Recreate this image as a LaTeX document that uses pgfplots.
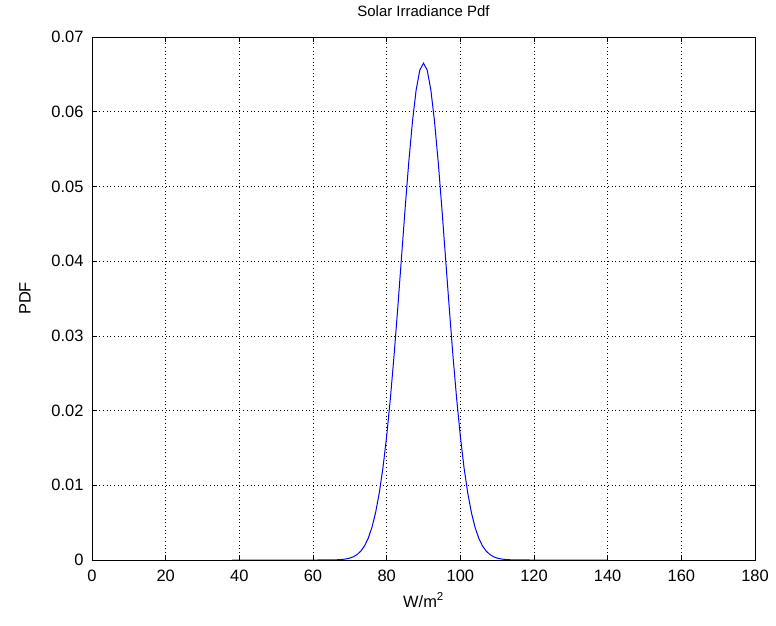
\documentclass[border=0pt]{standalone}
\usepackage{pgfplots}
\pgfplotsset{compat=1.18}
\usepackage{fontspec}
\setmainfont{Liberation Sans}
\begin{document}
\begin{tikzpicture}
\path[use as bounding box] (-92bp,-66bp) rectangle (684bp,560bp);
\begin{axis}[
  at={(0,0)}, anchor=south west,
  scale only axis, width=663bp, height=523bp,
  xmin=0, xmax=180, ymin=0, ymax=0.07,
  xtick={0,20,...,180},
  ytick={0,0.01,0.02,0.03,0.04,0.05,0.06,0.07},
  yticklabels={0,0.01,0.02,0.03,0.04,0.05,0.06,0.07},
  /pgf/number format/assume math mode=true,
  tick label style={font=\fontsize{16.5}{19}\selectfont},
  xticklabel style={yshift=-7bp},
  yticklabel style={xshift=-5bp},
  label style={font=\fontsize{16.5}{19}\selectfont},
  title style={font=\fontsize{15}{17}\selectfont, at={(axis description cs:0.5,1)}, anchor=center, yshift=20bp},
  title={Solar Irradiance Pdf},
  xlabel={W/m\textsuperscript{2}},
  ylabel={PDF},
  xlabel style={at={(axis description cs:0.5,0)}, anchor=center, yshift=-40bp},
  ylabel style={at={(axis description cs:0,0.5)}, anchor=center, yshift=67bp, xshift=0bp},
  tick align=inside, major tick length=5bp,
  xtick pos=both, ytick pos=both,
  grid=major,
  major grid style={black, line width=0.7pt, dash pattern=on 0.7pt off 3pt},
  axis line style={black, line width=0.7pt},
  tick style={black, line width=0.7pt},
  scaled y ticks=false,
]
\addplot[blue, line width=1pt] coordinates {
(38,0) (50,0) (60,0) (65,0.000001) (66,0.000022) (67,0.000043) (68,0.000080) (69,0.000145)
(70,0.000257) (71,0.000442) (72,0.000739) (73,0.001201) (74,0.001899)
(75,0.002921) (76,0.004370) (77,0.006359) (78,0.008998) (79,0.012385)
(80,0.016579) (81,0.021586) (82,0.027335) (83,0.033666) (84,0.040328)
(85,0.046985) (86,0.053241) (87,0.058677) (88,0.062897) (89,0.065573)
(90,0.066490)
(91,0.065573) (92,0.062897) (93,0.058677) (94,0.053241) (95,0.046985)
(96,0.040328) (97,0.033666) (98,0.027335) (99,0.021586) (100,0.016579)
(101,0.012385) (102,0.008998) (103,0.006359) (104,0.004370) (105,0.002921)
(106,0.001899) (107,0.001201) (108,0.000739) (109,0.000442) (110,0.000257)
(111,0.000145) (112,0.000080) (113,0.000043) (114,0.000022) (115,0.000001)
(120,0) (130,0) (140,0)
};
\end{axis}
\end{tikzpicture}
\end{document}
